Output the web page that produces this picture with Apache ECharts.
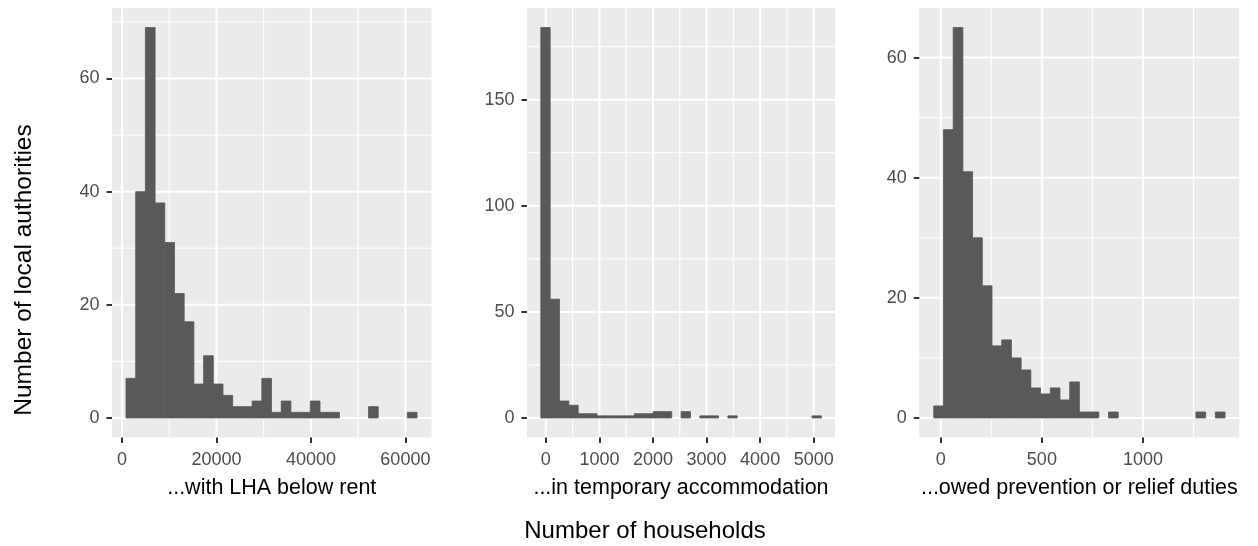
<!DOCTYPE html>
<html>
<head>
<meta charset="utf-8">
<script src="https://cdn.jsdelivr.net/npm/echarts@6/dist/echarts.min.js"></script>
<style>
  html, body { margin: 0; padding: 0; background: #ffffff; }
  #chart { width: 1258px; height: 546px; }
</style>
</head>
<body>
<div id="chart"></div>
<script>
// Histogram bins, 30 per panel: left edge of the first bin, bin width, count in each bin
const lhaBinStart = 846;
const lhaBinWidth = 2054;
const lhaCounts = [7, 40, 69, 38, 31, 22, 17, 6, 11, 6, 4, 2, 2, 3, 7, 1, 3, 1, 1, 3, 1, 1, 0, 0, 0, 2, 0, 0, 0, 1];

const taBinStart = -94;
const taBinWidth = 174.6;
const taCounts = [184, 56, 8, 6, 2, 2, 1, 1, 1, 1, 2, 2, 3, 3, 0, 3, 0, 1, 1, 0, 1, 0, 0, 0, 0, 0, 0, 0, 0, 1];

const dutyBinStart = -34.5;
const dutyBinWidth = 48;
const dutyCounts = [2, 48, 65, 41, 30, 22, 12, 13, 10, 8, 5, 4, 5, 3, 6, 1, 1, 0, 1, 0, 0, 0, 0, 0, 0, 0, 0, 1, 0, 1];

// Panel titles
const panelTitles = ['...with LHA below rent', '...in temporary accommodation', '...owed prevention or relief duties'];

// Tick values (major carry labels, minor only gridlines)
const lhaXTicks = [0, 20000, 40000, 60000];
const lhaXMinor = [10000, 30000, 50000];
const lhaYTicks = [0, 20, 40, 60];
const lhaYMinor = [10, 30, 50, 70];

const taXTicks = [0, 1000, 2000, 3000, 4000, 5000];
const taXMinor = [500, 1500, 2500, 3500, 4500];
const taYTicks = [0, 50, 100, 150];
const taYMinor = [25, 75, 125, 175];

const dutyXTicks = [0, 500, 1000];
const dutyXMinor = [250, 750, 1250];
const dutyYTicks = [0, 20, 40, 60];
const dutyYMinor = [10, 30, 50];

// Axis limits (data range plus 5% padding)
const lhaXRange = [-2115, 65530];
const lhaYRange = [-3.45, 72.45];
const taXRange = [-352, 5398];
const taYRange = [-9.2, 193.2];
const dutyXRange = [-106, 1476];
const dutyYRange = [-3.25, 68.25];

const FONT = '"Liberation Sans", Arial, Helvetica, sans-serif';

const panels = [
  { start: lhaBinStart, width: lhaBinWidth, counts: lhaCounts, xt: lhaXTicks, xm: lhaXMinor, yt: lhaYTicks, ym: lhaYMinor, xr: lhaXRange, yr: lhaYRange,
    grid: { left: 112, right: 826.5, top: 8, bottom: 108.5 } },
  { start: taBinStart, width: taBinWidth, counts: taCounts, xt: taXTicks, xm: taXMinor, yt: taYTicks, ym: taYMinor, xr: taXRange, yr: taYRange,
    grid: { left: 527, right: 423, top: 8, bottom: 108.5 } },
  { start: dutyBinStart, width: dutyBinWidth, counts: dutyCounts, xt: dutyXTicks, xm: dutyXMinor, yt: dutyYTicks, ym: dutyYMinor, xr: dutyXRange, yr: dutyYRange,
    grid: { left: 919.3, right: 18.7, top: 8, bottom: 108.5 } }
];

function buildBins(p) {
  return p.counts.map((n, i) => [p.start + i * p.width, p.start + (i + 1) * p.width, n]);
}

function buildGridLines(p) {
  const out = [];
  p.xm.forEach(v => out.push([0, v, 0]));
  p.ym.forEach(v => out.push([1, v, 0]));
  p.xt.forEach(v => out.push([0, v, 1]));
  p.yt.forEach(v => out.push([1, v, 1]));
  return out;
}

function renderGridLine(params, api) {
  const cs = params.coordSys;
  const dir = api.value(0);
  const v = api.value(1);
  const major = api.value(2);
  let shape;
  if (dir === 0) {
    const p = api.coord([v, 0]);
    shape = { x1: p[0], y1: cs.y, x2: p[0], y2: cs.y + cs.height };
  } else {
    const p = api.coord([0, v]);
    shape = { x1: cs.x, y1: p[1], x2: cs.x + cs.width, y2: p[1] };
  }
  return { type: 'line', shape: shape, silent: true,
    style: { stroke: '#ffffff', lineWidth: major ? 2 : 1 } };
}

function renderBar(params, api) {
  const n = api.value(2);
  if (!n) return null;
  const a = api.coord([api.value(0), n]);
  const b = api.coord([api.value(1), 0]);
  return { type: 'rect', silent: true,
    shape: { x: a[0], y: a[1], width: b[0] - a[0], height: b[1] - a[1] },
    style: { fill: '#595959', stroke: '#595959', lineWidth: 0.8 } };
}

const plainNumber = v => String(v);

const grids = [], xAxes = [], yAxes = [], series = [];
panels.forEach((p, i) => {
  grids.push(Object.assign({ show: true, backgroundColor: '#EBEBEB', borderWidth: 0, containLabel: false, outerBoundsMode: 'none' }, p.grid));
  xAxes.push({
    gridIndex: i, type: 'value', min: p.xr[0], max: p.xr[1], position: 'bottom', z: 5,
    axisLine: { show: false, onZero: false }, splitLine: { show: false },
    axisTick: { show: true, inside: false, customValues: p.xt, length: 5.5, lineStyle: { color: '#333333', width: 2 } },
    axisLabel: { customValues: p.xt, formatter: plainNumber, color: '#4D4D4D', fontSize: 18, margin: 13.5, fontFamily: FONT },
    name: panelTitles[i], nameLocation: 'middle', nameGap: 39.5,
    nameTextStyle: { fontSize: 21.5, color: '#000000', fontFamily: FONT }
  });
  yAxes.push({
    gridIndex: i, type: 'value', min: p.yr[0], max: p.yr[1], position: 'left', z: 5,
    axisLine: { show: false, onZero: false }, splitLine: { show: false },
    axisTick: { show: true, inside: false, customValues: p.yt, length: 5.5, lineStyle: { color: '#333333', width: 2 } },
    axisLabel: { customValues: p.yt, formatter: plainNumber, color: '#4D4D4D', fontSize: 18, margin: 12.5, fontFamily: FONT }
  });
  series.push({
    type: 'custom', xAxisIndex: i, yAxisIndex: i, z: 1, silent: true,
    renderItem: renderGridLine, data: buildGridLines(p), encode: { x: 1, y: 1 }
  });
  series.push({
    type: 'custom', xAxisIndex: i, yAxisIndex: i, z: 2, silent: true,
    renderItem: renderBar, data: buildBins(p), encode: { x: [0, 1], y: 2 }
  });
});

const chart = echarts.init(document.getElementById('chart'), null, { renderer: 'canvas' });
chart.setOption({
  animation: false,
  backgroundColor: '#ffffff',
  grid: grids,
  xAxis: xAxes,
  yAxis: yAxes,
  series: series,
  graphic: [
    { type: 'text', x: 645, y: 531.5, silent: true,
      style: { text: 'Number of households', x: 0, y: 0, fill: '#000000', font: '24px ' + FONT, textAlign: 'center', textVerticalAlign: 'middle' } },
    { type: 'text', x: 24.5, y: 270, rotation: Math.PI / 2, silent: true,
      style: { text: 'Number of local authorities', x: 0, y: 0, fill: '#000000', font: '24.5px ' + FONT, textAlign: 'center', textVerticalAlign: 'middle' } }
  ]
});
</script>
</body>
</html>
